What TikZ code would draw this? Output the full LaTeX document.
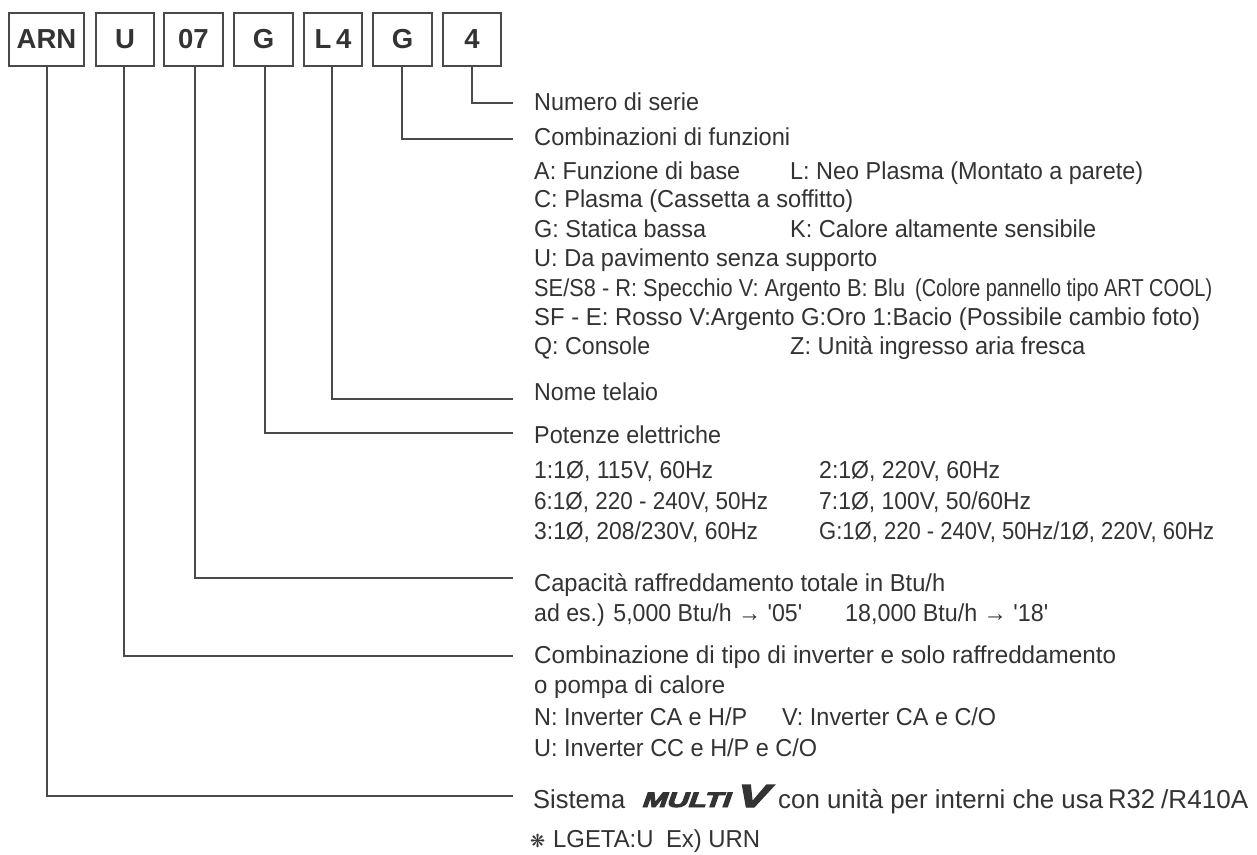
\documentclass[tikz,border=0pt]{standalone}
\usepackage{fontspec}
\usepackage{graphicx}
\setmainfont{Liberation Sans}
\newfontfamily\pl{Liberation Sans}
\newfontfamily\symfont{DejaVu Sans}
\newfontfamily\logofont[FakeBold=4,FakeSlant=0.25]{Liberation Sans Bold}
\definecolor{ink}{HTML}{333333}
\definecolor{wire}{HTML}{4A4A4A}
\newcommand{\fitw}[2]{\resizebox{#1pt}{\height}{#2}}
\tikzset{
  codebox/.style={draw=wire,line width=1.5pt,fill=white,inner sep=0pt,font=\fontsize{27.5}{27.5}\selectfont\bfseries,text=ink},
  wirel/.style={draw=wire,line width=1.5pt},
  lbl/.style={anchor=base west,inner sep=0pt,font=\fontsize{24.5}{26}\selectfont,text=ink}
}
\begin{document}
\begin{tikzpicture}[x=1pt,y=-1pt]
\useasboundingbox (0,0) rectangle (1257,854);
\foreach \n/\xa/\xb/\t in {arn/9/84/ARN,u/96/154/U,c07/164/223/07,ga/234/293/G,l4/304/362/L\,4,gb/373/432/G,four/443/501/4}{
  \node[codebox,minimum width={(\xb-\xa)*1pt},minimum height=53pt] (\n) at ({(\xa+\xb)/2},39.5) {\raisebox{-1.3pt}{\t}};
}
\coordinate (arnb) at (47,66);
\coordinate (ub) at (124,66);
\coordinate (c07b) at (195,66);
\coordinate (gab) at (265,66);
\coordinate (l4b) at (332,66);
\coordinate (gbb) at (402,66);
\coordinate (fourb) at (472,66);
\coordinate (e1) at (513,103);
\coordinate (e2) at (513,139);
\coordinate (e3) at (513,399);
\coordinate (e4) at (513,433);
\coordinate (e5) at (513,578);
\coordinate (e6) at (513,656);
\coordinate (e7) at (513,796);
\draw[wirel] (fourb) |- (e1);
\draw[wirel] (gbb) |- (e2);
\draw[wirel] (l4b) |- (e3);
\draw[wirel] (gab) |- (e4);
\draw[wirel] (c07b) |- (e5);
\draw[wirel] (ub) |- (e6);
\draw[wirel] (arnb) |- (e7);
\node[lbl] (t1) at (534,110) {\fitw{165}{Numero di serie}};
\node[lbl] (t2) at (534,145.5) {\fitw{256}{Combinazioni di funzioni}};
\node[lbl] (t3a) at (534,179) {\fitw{206}{A: Funzione di base}};
\node[lbl] (t3b) at (790,179) {\fitw{353}{L: Neo Plasma (Montato a parete)}};
\node[lbl] (t4) at (534,207) {\fitw{319}{C: Plasma (Cassetta a soffitto)}};
\node[lbl] (t5a) at (534,237) {\fitw{172}{G: Statica bassa}};
\node[lbl] (t5b) at (790,237) {\fitw{306}{K: Calore altamente sensibile}};
\node[lbl] (t6) at (534,266) {\fitw{343}{U: Da pavimento senza supporto}};
\node[lbl] (t7a) at (534,296) {\fitw{371}{SE/S8 - R: Specchio V: Argento B: Blu}};
\node[lbl] (t7b) at (915,296) {\fitw{297}{(Colore pannello tipo ART COOL)}};
\node[lbl] (t8) at (534,325) {\fitw{666}{SF - E: Rosso V:Argento G:Oro 1:Bacio (Possibile cambio foto)}};
\node[lbl] (t9a) at (534,354) {\fitw{116}{Q: Console}};
\node[lbl] (t9b) at (790,354) {\fitw{295}{Z: Unità ingresso aria fresca}};
\node[lbl] (t10) at (534,400) {\fitw{124}{Nome telaio}};
\node[lbl] (t11) at (534,443) {\fitw{187}{Potenze elettriche}};
\node[lbl] (t12a) at (534,478) {\fitw{179}{1:1Ø, 115V, 60Hz}};
\node[lbl] (t12b) at (819,478) {\fitw{181}{2:1Ø, 220V, 60Hz}};
\node[lbl] (t13a) at (534,509) {\fitw{234}{6:1Ø, 220 - 240V, 50Hz}};
\node[lbl] (t13b) at (819,509) {\fitw{212}{7:1Ø, 100V, 50/60Hz}};
\node[lbl] (t14a) at (534,539) {\fitw{224}{3:1Ø, 208/230V, 60Hz}};
\node[lbl] (t14b) at (819,539) {\fitw{395}{G:1Ø, 220 - 240V, 50Hz/1Ø, 220V, 60Hz}};
\node[lbl] (t15) at (534,591) {\fitw{411}{Capacità raffreddamento totale in Btu/h}};
\node[lbl] (t16a) at (534,621) {\fitw{268}{ad es.) 5,000 Btu/h {\pl → '05'}}};
\node[lbl] (t16b) at (845,621) {\fitw{203}{18,000 Btu/h {\pl → '18'}}};
\node[lbl] (t17) at (534,663) {\fitw{582}{Combinazione di tipo di inverter e solo raffreddamento}};
\node[lbl] (t18) at (534,693) {\fitw{191}{o pompa di calore}};
\node[lbl] (t19a) at (534,725) {\fitw{213}{N: Inverter CA e H/P}};
\node[lbl] (t19b) at (782,725) {\fitw{214}{V: Inverter CA e C/O}};
\node[lbl] (t20) at (534,756) {\fitw{283}{U: Inverter CC e H/P e C/O}};
\node[lbl,font=\fontsize{26}{28}\selectfont] (t21a) at (533,808) {\fitw{92}{Sistema}};
\node[lbl] (logo) at (641,807) {\fitw{88}{\logofont\fontsize{21}{21}\selectfont MULTI}\hspace{5pt}\fitw{32}{\logofont\fontsize{32}{32}\selectfont V}};
\node[lbl,font=\fontsize{26}{28}\selectfont] (t21b) at (778,808) {\fitw{325}{con unità per interni che usa}};
\node[lbl,font=\fontsize{27}{28}\selectfont] (t21c) at (1108,808) {\fitw{47}{R32}};
\node[lbl,font=\fontsize{26}{28}\selectfont] (t21d) at (1161,808) {\fitw{87}{/R410A}};
\node[lbl] (t22a) at (530,847) {{\symfont\fontsize{18}{20}\selectfont ❋}};
\node[lbl] (t22b) at (553,847) {\fitw{207}{LGETA:U\hspace{6pt} Ex) URN}};
\end{tikzpicture}
\end{document}
